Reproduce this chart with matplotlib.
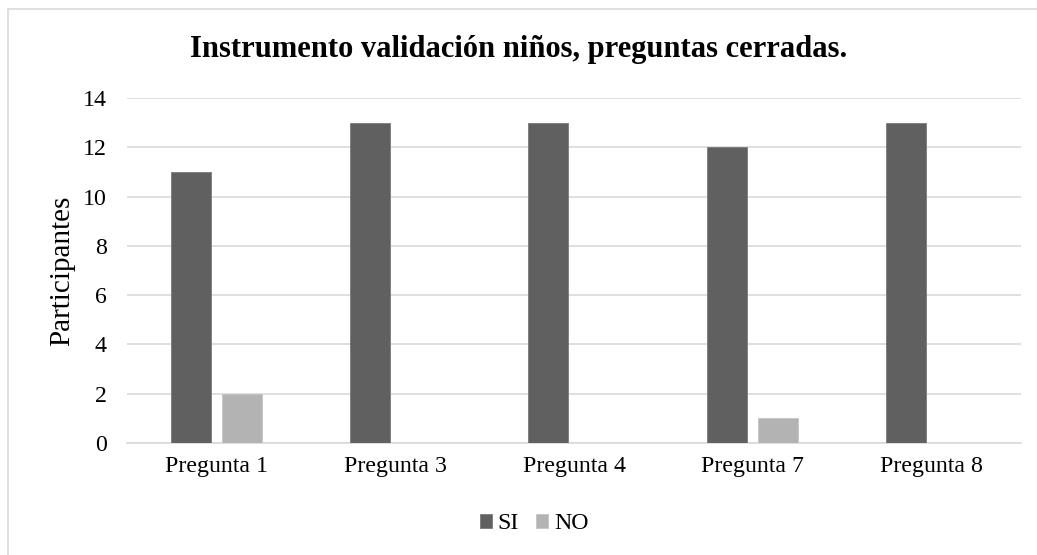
import numpy as np
import matplotlib
matplotlib.use("Agg")
import matplotlib.pyplot as plt
from matplotlib.patches import Rectangle

# data
categories = ["Pregunta 1", "Pregunta 3", "Pregunta 4", "Pregunta 7", "Pregunta 8"]
si_values = [11, 13, 13, 12, 13]
no_values = [2, 0, 0, 1, 0]
series_names = ["SI", "NO"]

plt.rcParams['font.family'] = ['Liberation Serif', 'DejaVu Serif']

fig = plt.figure(figsize=(10.37, 5.55), dpi=100)
ax = fig.add_axes([0.1225, 0.2018, 0.9846 - 0.1225, 0.8234 - 0.2018])

# outer chart frame (right and bottom edges fall outside the image)
fig.patches.append(Rectangle((8 / 1037, -0.05), 1.2, 1.05 - 9 / 555,
                             transform=fig.transFigure, fill=False,
                             edgecolor="#d9d9d9", linewidth=1.2))

x = np.arange(len(categories))
w = 0.224
ax.bar(x - 0.143, si_values, w, color="#606060", edgecolor="#7a7a7a",
       linewidth=0.6, label=series_names[0], zorder=3)
ax.bar(x + 0.143, no_values, w, color="#b3b3b3", edgecolor="#c4c4c4",
       linewidth=0.6, label=series_names[1], zorder=3)

ax.set_xlim(-0.5, len(categories) - 0.5)
ax.set_ylim(0, 14)
ax.set_yticks(range(0, 15, 2))
ax.set_xticks(x)
ax.set_xticklabels(categories)
ax.yaxis.grid(True, color="#d9d9d9", linewidth=1.2, zorder=0)
for s in ["top", "right", "left"]:
    ax.spines[s].set_visible(False)
ax.spines["bottom"].set_color("#d9d9d9")
ax.spines["bottom"].set_linewidth(1.2)
ax.tick_params(axis="both", length=0, labelsize=17.2, colors="black")
ax.tick_params(axis="y", pad=14.5)
ax.tick_params(axis="x", pad=9)

ax.set_ylabel("Participantes", fontsize=21)
ax.yaxis.set_label_coords((75 - 127) / 894, 0.5)
fig.text(0.5, 0.91, "Instrumento validación niños, preguntas cerradas.",
         ha="center", va="center", fontsize=22, fontweight="bold")

fig.legend(loc="center", bbox_to_anchor=(0.515, 0.056), ncol=2, frameon=False,
           fontsize=17.2, handlelength=0.5, handleheight=0.5,
           handletextpad=0.25, columnspacing=0.7)

fig.savefig("out.png", dpi=100)
